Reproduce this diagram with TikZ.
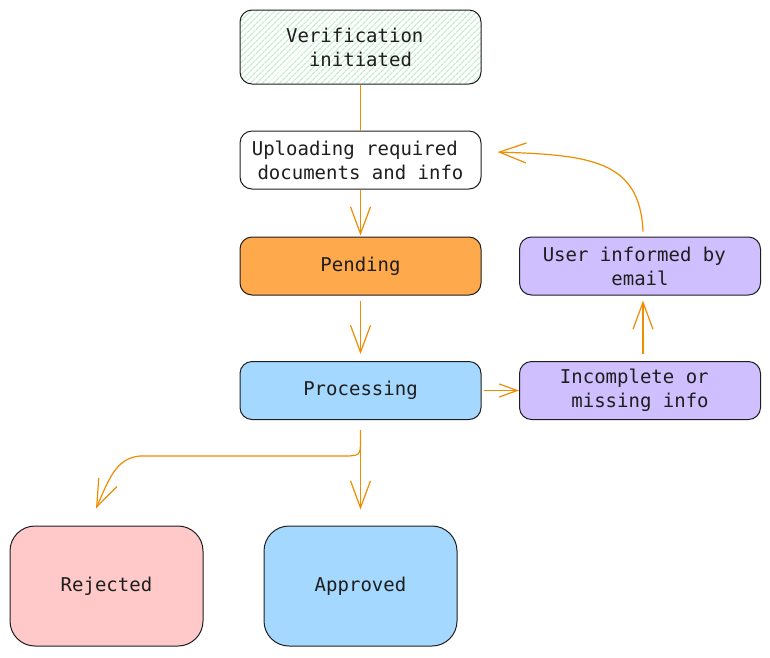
\documentclass[tikz,border=0pt]{standalone}
\usepackage{fontspec}
\setmonofont{DejaVu Sans Mono}
\usetikzlibrary{arrows.meta,patterns.meta}
\definecolor{strokec}{HTML}{1E1E1E}
\definecolor{arrowc}{HTML}{F08C00}
\definecolor{orangef}{HTML}{FFA94D}
\definecolor{bluef}{HTML}{A5D8FF}
\definecolor{purplef}{HTML}{D0BFFF}
\definecolor{pinkf}{HTML}{FFC9C9}
\definecolor{greenbg}{HTML}{FFFFFF}
\definecolor{greenl}{HTML}{C3EDCB}
\tikzset{
  box/.style={draw=strokec, line width=1pt, rounded corners=12pt, minimum width=241pt,
    minimum height=58pt, inner sep=0pt, align=center, text=strokec,
    font=\ttfamily\fontsize{19}{24}\selectfont},
  bigbox/.style={box, minimum width=193pt, minimum height=120pt, rounded corners=25pt},
  conn/.style={draw=arrowc, line width=1.2pt},
  arr/.style={conn, -{Straight Barb[length=27pt,width=20pt,line width=1.2pt]}},
  arrsmall/.style={conn, -{Straight Barb[length=18pt,width=13pt,line width=1.2pt]}}
}
\begin{document}
\begin{tikzpicture}[x=1pt,y=-1pt]
\useasboundingbox (0,0) rectangle (770,657);
\node[box, minimum height=74pt, preaction={fill=greenbg},
  pattern={Lines[angle=45,distance=4pt,line width=1.3pt]}, pattern color=greenl] (ver) at (360.5,47) {Verification\hphantom{x}\\initiated};
\node[box] (up) at (360.5,160) {Uploading required\hphantom{x}\\documents and info};
\node[box, fill=orangef] (pen) at (360.5,266) {Pending};
\node[box, fill=bluef] (proc) at (360.5,390.5) {Processing};
\node[box, fill=purplef] (usr) at (640,266) {User informed by\hphantom{x}\\email};
\node[box, fill=purplef] (inc) at (640,390.5) {Incomplete or\hphantom{x}\\missing info};
\node[bigbox, fill=pinkf] (rej) at (106.5,586) {Rejected};
\node[bigbox, fill=bluef] (app) at (360.5,586) {Approved};

\draw[conn] (ver.south) -- (up.north);
\draw[arr] (up.south) -- ([yshift=1pt]pen.north);
\draw[arr] ([yshift=-5pt]pen.south) -- ([yshift=7pt]proc.north);
\draw[arrsmall] ([xshift=2pt]proc.east) -- (inc.west);
\draw[arr] ([xshift=3pt,yshift=7pt]inc.north) -- ([xshift=3pt,yshift=-5pt]usr.south);
\draw[arr] ([xshift=3pt,yshift=5pt]usr.north) .. controls (640,160) and (590,155) .. ([xshift=16pt,yshift=8pt]up.east);
\draw[arr] ([yshift=-10pt]proc.south) -- ([yshift=16pt]app.north);
\draw[arr] ([yshift=-10pt]proc.south) -- (360.5,440) .. controls (360.5,456) .. (340,456) -- (140,456) .. controls (115,458) and (108,482) .. ([xshift=-10.5pt,yshift=17pt]rej.north);
\end{tikzpicture}
\end{document}
